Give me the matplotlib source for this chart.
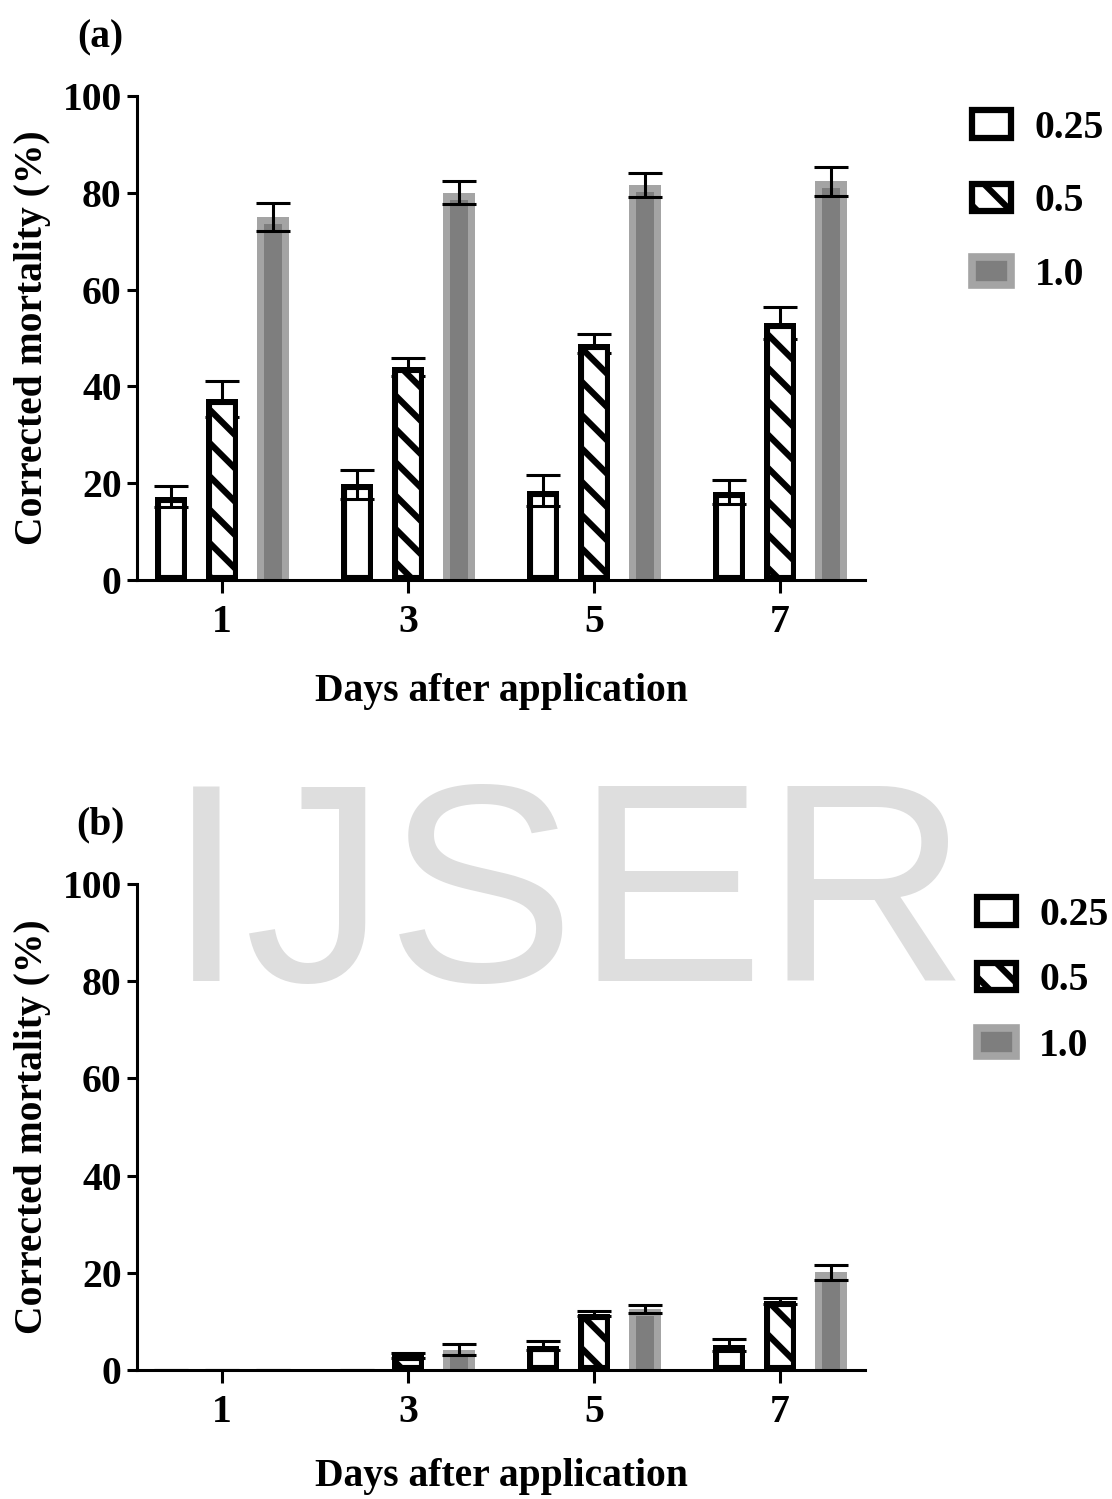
import matplotlib
matplotlib.use("Agg")
import matplotlib.pyplot as plt
from matplotlib.patches import Rectangle
import matplotlib.transforms as mtransforms
import numpy as np

plt.rcParams['font.family'] = ['Liberation Serif', 'DejaVu Serif']
plt.rcParams['font.weight'] = 'bold'
plt.rcParams['hatch.linewidth'] = 4.5

days = ['1', '3', '5', '7']
concs = ['0.25', '0.5', '1.0']

# Panel (a)
a_025 = [17.2, 19.8, 18.4, 18.2]
a_025_err = [2.2, 3.0, 3.2, 2.5]
a_05 = [37.4, 44.0, 48.8, 53.1]
a_05_err = [3.7, 1.9, 2.0, 3.3]
a_10 = [75.0, 80.0, 81.6, 82.4]
a_10_err = [2.9, 2.4, 2.4, 3.0]

# Panel (b)
b_025 = [0.0, 0.0, 5.0, 5.2]
b_025_err = [0.0, 0.0, 0.9, 1.2]
b_05 = [0.0, 3.0, 11.6, 14.2]
b_05_err = [0.0, 0.5, 0.5, 0.7]
b_10 = [0.0, 4.2, 12.5, 20.1]
b_10_err = [0.0, 1.1, 0.8, 1.5]

W, H = 1112, 1499
fig = plt.figure(figsize=(W / 100, H / 100), dpi=100)

# watermark
fig.text(568 / W, 1 - 981 / H, 'IJSER', family='Liberation Sans', fontweight='normal',
         fontsize=204, color='#dedede', ha='center', va='baseline', zorder=-5)

FS = 28.5
LFS = 28.5
offs = [-0.274, 0.0, 0.274]
bw = 0.172
LIGHT = '#a4a4a4'
DARK = '#7e7e7e'


def panel(rect, vals, errs, label, label_y, leg_left, leg_top, lspace, xpad):
    ax = fig.add_axes(rect)
    ax.set_facecolor('none')
    x = np.arange(len(days))
    for i, (v, e) in enumerate(zip(vals, errs)):
        xi = x + offs[i]
        ez = 1 if i == 1 else 4
        ax.errorbar(xi, v, yerr=e, fmt='none', ecolor='black', elinewidth=2.2,
                    capsize=12, capthick=2.2, zorder=ez)
        if i < 2:
            bars = ax.bar(xi, v, width=bw, zorder=2, facecolor='white',
                          edgecolor='black', linewidth=8.0,
                          hatch='\\' if i == 1 else None)
            for b in bars:
                b.set_clip_path(b)
        else:
            ax.bar(xi, v, width=bw, zorder=2, facecolor=LIGHT, edgecolor='none',
                   linewidth=0)
            inner_tr = ax.transData + mtransforms.ScaledTranslation(
                0, -7 / 100, fig.dpi_scale_trans)
            ax.bar(xi, v, width=bw - 14 / 186, zorder=2.5, facecolor=DARK,
                   edgecolor='none', linewidth=0, transform=inner_tr)
    ax.set_xlim(-0.457, 3.457)
    ax.set_ylim(0, 100)
    ax.set_yticks([0, 20, 40, 60, 80, 100])
    ax.set_xticks(x)
    ax.set_xticklabels(days)
    for s in ['top', 'right']:
        ax.spines[s].set_visible(False)
    for s in ['left', 'bottom']:
        ax.spines[s].set_linewidth(2.2)
    ax.tick_params(axis='y', length=7, width=2.2, labelsize=FS, pad=4)
    ax.tick_params(axis='x', length=9, width=2.2, labelsize=FS, pad=8)
    for t in ax.get_xticklabels() + ax.get_yticklabels():
        t.set_fontweight('bold')
    ax.set_xlabel('Days after application', fontsize=FS, fontweight='bold', labelpad=xpad)
    ax.set_ylabel('Corrected mortality (%)', fontsize=FS, fontweight='bold', labelpad=8)
    fig.text(100 / W, 1 - label_y / H, label, fontsize=FS, fontweight='bold',
             ha='center', va='center')
    handles = [
        Rectangle((0, 0), 1, 1, facecolor='white', edgecolor='black', linewidth=4.5),
        Rectangle((0, 0), 1, 1, facecolor='white', edgecolor='black', linewidth=4.5, hatch='\\'),
        Rectangle((0, 0), 1, 1, facecolor=DARK, edgecolor=LIGHT, linewidth=5.5),
    ]
    leg = ax.legend(handles, concs, loc='upper left',
                    bbox_to_anchor=(leg_left / W, 1 - leg_top / H),
                    bbox_transform=fig.transFigure, frameon=False, fontsize=LFS,
                    handlelength=1.0, handleheight=0.7, handletextpad=0.58,
                    labelspacing=lspace, borderaxespad=0)
    for t in leg.get_texts():
        t.set_fontweight('bold')
    return ax


panel([137 / W, 1 - 580 / H, 728 / W, 484 / H], [a_025, a_05, a_10],
      [a_025_err, a_05_err, a_10_err], '(a)', 38, 956, 94, 0.92, 23)
panel([137 / W, 1 - 1370 / H, 728 / W, 486 / H], [b_025, b_05, b_10],
      [b_025_err, b_05_err, b_10_err], '(b)', 825, 961, 881, 0.72, 20)

fig.savefig('out.png', dpi=100)
